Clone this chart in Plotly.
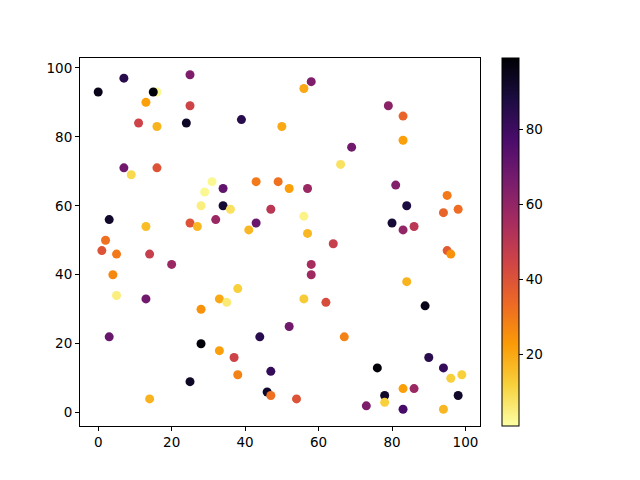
import plotly.graph_objects as go

x_vals = [7, 25, 0, 16, 15, 13, 25, 11, 16, 24, 39, 50, 7, 9, 16, 31, 34, 29, 43, 49,
          28, 34, 36, 47, 3, 13, 25, 27, 32, 43, 41, 2,
          58, 56, 79, 83, 83, 69, 66, 52, 57, 81, 84, 95, 94, 98, 56, 80, 83, 86, 57, 64,
          1, 5, 14, 20, 4, 5, 13, 38, 33, 35, 28, 3, 28, 44, 33, 37, 47, 38, 25, 46, 47, 14,
          95, 96, 58, 58, 84, 56, 62, 89, 52, 67, 54, 76, 90, 94, 96, 99, 78, 78, 83, 86, 98, 73, 83, 94]
y_vals = [97, 98, 93, 93, 93, 90, 89, 84, 83, 84, 85, 83, 71, 69, 71, 67, 65, 64, 67, 67,
          60, 60, 59, 59, 56, 54, 55, 54, 56, 55, 53, 50,
          96, 94, 89, 86, 79, 77, 72, 65, 65, 66, 60, 63, 58, 59, 57, 55, 53, 54, 52, 49,
          47, 46, 46, 43, 40, 34, 33, 36, 33, 32, 30, 22, 20, 22, 18, 16, 12, 11, 9, 6, 5, 4,
          47, 46, 43, 40, 38, 33, 32, 31, 25, 22, 4, 13, 16, 13, 10, 11, 5, 3, 7, 7, 5, 2, 1, 1]
c_vals = [85, 65, 95, 3, 98, 22, 45, 45, 18, 93, 85, 20, 68, 10, 40, 3, 72, 3, 30, 32,
          5, 90, 8, 50, 92, 16, 40, 17, 58, 70, 17, 32,
          65, 20, 62, 35, 22, 68, 8, 22, 58, 64, 88, 30, 35, 33, 4, 90, 60, 50, 17, 47,
          40, 30, 47, 58, 27, 5, 68, 12, 20, 6, 25, 70, 98, 85, 22, 45, 82, 28, 93, 92, 32, 18,
          38, 25, 55, 57, 18, 13, 42, 95, 68, 28, 40, 98, 85, 82, 12, 12, 92, 12, 22, 58, 92, 65, 78, 17]

fig = go.Figure(go.Scatter(
    x=x_vals, y=y_vals, mode="markers",
    marker=dict(
        size=9, color=c_vals, colorscale="Inferno", reversescale=True,
        cmin=1, cmax=99, line=dict(width=0),
        colorbar=dict(
            x=1.03, xanchor="left", xpad=10, y=0.5, yanchor="middle", ypad=0,
            len=1.0, lenmode="fraction",
            thickness=17, outlinewidth=1, outlinecolor="black",
            ticks="outside", ticklen=4, tickwidth=1, tickcolor="black",
            tickvals=[20, 40, 60, 80], tickfont=dict(size=13.5, color="black"),
        ),
    ),
))

axis_common = dict(
    showgrid=False, zeroline=False, showline=True, linecolor="black", linewidth=1,
    mirror=True, ticks="outside", ticklen=4, tickwidth=1, tickcolor="black",
    tickfont=dict(size=13.5, color="black"),
)
fig.update_xaxes(range=[-4.95, 103.95], tickvals=[0, 20, 40, 60, 80, 100], **axis_common)
fig.update_yaxes(range=[-3.85, 102.85], tickvals=[0, 20, 40, 60, 80, 100], **axis_common)

fig.update_layout(
    width=640, height=480,
    margin=dict(l=72, r=168, t=50, b=62),
    paper_bgcolor="white", plot_bgcolor="white",
    font=dict(family="DejaVu Sans", color="black"),
    showlegend=False,
)

fig.write_html("out.html")
